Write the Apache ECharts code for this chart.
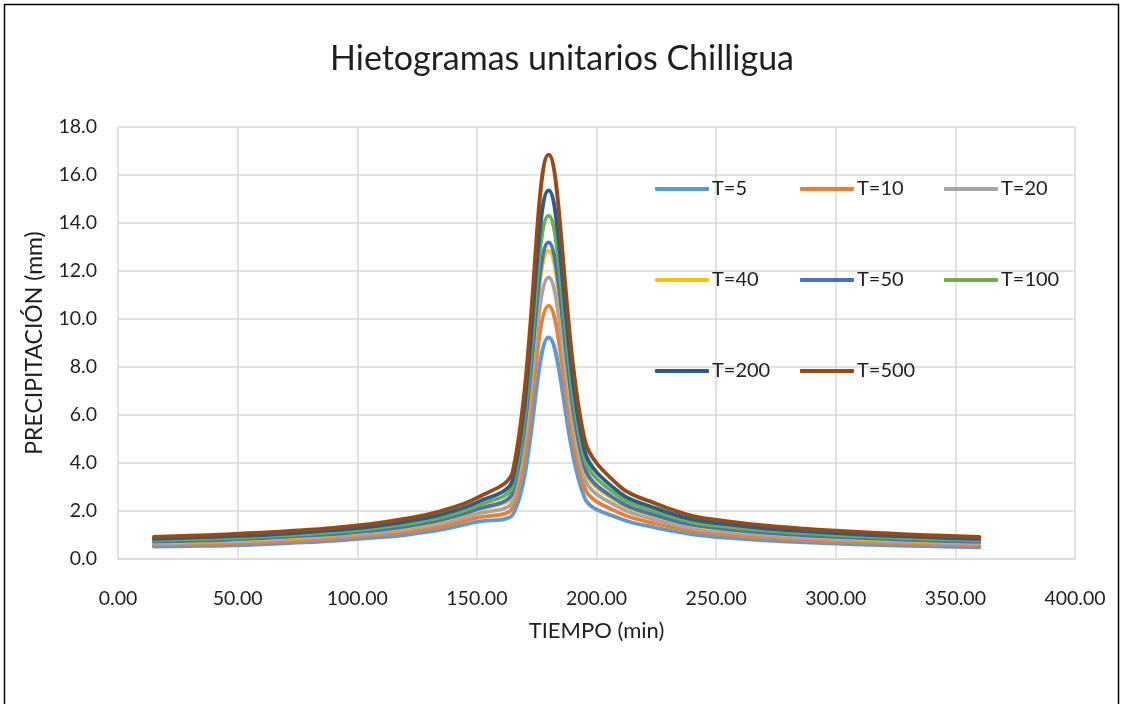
<!DOCTYPE html>
<html>
<head>
<meta charset="utf-8">
<script src="https://cdn.jsdelivr.net/npm/echarts@6/dist/echarts.min.js"></script>
<style>
  html, body { margin: 0; padding: 0; background: #ffffff; }
  #chart { width: 1124px; height: 704px; }
</style>
</head>
<body>
<div id="chart"></div>
<script>
// Tiempo (min) de cada bloque de 15 minutos
const tiempo = [15, 30, 45, 60, 75, 90, 105, 120, 135, 150, 165, 180,
                195, 210, 225, 240, 255, 270, 285, 300, 315, 330, 345, 360];

// Precipitación (mm) por periodo de retorno
const t5   = [0.52, 0.54, 0.56, 0.61, 0.68, 0.76, 0.87, 1.00, 1.22, 1.55, 1.85, 9.23,
              2.55, 1.68, 1.30, 1.03, 0.88, 0.78, 0.70, 0.64, 0.59, 0.55, 0.52, 0.49];
const t10  = [0.59, 0.61, 0.64, 0.69, 0.77, 0.85, 0.97, 1.12, 1.35, 1.72, 2.16, 10.55,
              2.97, 1.90, 1.47, 1.16, 1.00, 0.89, 0.80, 0.73, 0.68, 0.63, 0.60, 0.56];
const t20  = [0.65, 0.68, 0.72, 0.77, 0.85, 0.94, 1.06, 1.22, 1.48, 1.88, 2.44, 11.73,
              3.36, 2.12, 1.63, 1.28, 1.11, 0.99, 0.89, 0.82, 0.76, 0.71, 0.67, 0.63];
const t40  = [0.71, 0.74, 0.78, 0.84, 0.92, 1.02, 1.15, 1.32, 1.59, 2.03, 2.71, 12.85,
              3.71, 2.31, 1.78, 1.40, 1.21, 1.08, 0.98, 0.90, 0.83, 0.78, 0.73, 0.69];
const t50  = [0.73, 0.76, 0.80, 0.87, 0.95, 1.04, 1.17, 1.35, 1.63, 2.07, 2.79, 13.19,
              3.82, 2.37, 1.82, 1.43, 1.24, 1.10, 1.00, 0.92, 0.86, 0.80, 0.75, 0.71];
const t100 = [0.79, 0.83, 0.87, 0.94, 1.02, 1.12, 1.26, 1.45, 1.74, 2.22, 3.05, 14.30,
              4.18, 2.56, 1.97, 1.54, 1.34, 1.19, 1.09, 1.00, 0.93, 0.87, 0.82, 0.78];
const t200 = [0.84, 0.89, 0.94, 1.00, 1.09, 1.20, 1.34, 1.55, 1.85, 2.36, 3.30, 15.36,
              4.52, 2.74, 2.11, 1.65, 1.44, 1.28, 1.17, 1.08, 1.00, 0.94, 0.88, 0.84];
const t500 = [0.92, 0.97, 1.03, 1.10, 1.19, 1.30, 1.45, 1.68, 2.00, 2.55, 3.65, 16.85,
              5.00, 3.00, 2.30, 1.80, 1.57, 1.40, 1.28, 1.18, 1.10, 1.03, 0.97, 0.92];

const nombres = ['T=5', 'T=10', 'T=20', 'T=40', 'T=50', 'T=100', 'T=200', 'T=500'];
const valores = [t5, t10, t20, t40, t50, t100, t200, t500];
const colores = ['#5B9BD5', '#ED7D31', '#A5A5A5', '#FFC000', '#4472C4', '#70AD47', '#255E91', '#9E480E'];

// Columnas de la leyenda (3 x 3)
const columnasLeyenda = [
  ['T=5', 'T=40', 'T=200'],
  ['T=10', 'T=50', 'T=500'],
  ['T=20', 'T=100']
];

const fuente = 'Lato, "Open Sans", sans-serif';
const colorTexto = '#1f1f1f';

const chart = echarts.init(document.getElementById('chart'), null, { renderer: 'canvas' });

const series = nombres.map((n, k) => ({
  name: n,
  type: 'line',
  data: tiempo.map((t, i) => [t, valores[k][i]]),
  smooth: 0.35,
  symbol: 'none',
  showSymbol: false,
  lineStyle: { width: 3.8, color: colores[k], cap: 'round', join: 'round' },
  itemStyle: { color: colores[k] },
  emphasis: { disabled: true },
  animation: false
}));

const legendLeft = [655, 800, 944];
const legends = columnasLeyenda.map((col, c) => ({
  orient: 'vertical',
  left: legendLeft[c],
  top: 179,
  itemGap: 71,
  itemWidth: 54,
  itemHeight: 4,
  icon: 'roundRect',
  selectedMode: false,
  data: col,
  padding: 0,
  textStyle: { fontFamily: fuente, fontSize: 20, color: colorTexto, lineHeight: 20, padding: [0, 0, 0, -2] }
}));

chart.setOption({
  animation: false,
  backgroundColor: '#ffffff',
  color: colores,
  title: {
    text: 'Hietogramas unitarios Chilligua',
    left: 'center',
    top: 37,
    textStyle: { fontFamily: fuente, fontSize: 34, fontWeight: 'normal', color: colorTexto }
  },
  legend: legends,
  grid: { left: 118, right: 49, top: 127, bottom: 145, containLabel: false },
  xAxis: {
    type: 'value',
    min: 0, max: 400, interval: 50,
    name: 'TIEMPO (min)',
    nameLocation: 'middle',
    nameGap: 61,
    nameTextStyle: { fontFamily: fuente, fontSize: 22, color: colorTexto },
    axisLine: { show: true, lineStyle: { color: '#D9D9D9', width: 1.5 } },
    axisTick: { show: false },
    axisLabel: {
      margin: 30,
      fontFamily: fuente, fontSize: 19.5, color: colorTexto,
      formatter: v => v.toFixed(2)
    },
    splitLine: { show: true, lineStyle: { color: '#D9D9D9', width: 1.5 } }
  },
  yAxis: {
    type: 'value',
    min: 0, max: 18, interval: 2,
    name: 'PRECIPITACIÓN (mm)',
    nameLocation: 'middle',
    nameGap: 72,
    nameTextStyle: { fontFamily: fuente, fontSize: 23, color: colorTexto },
    axisLine: { show: false },
    axisTick: { show: false },
    axisLabel: {
      margin: 21,
      fontFamily: fuente, fontSize: 19.5, color: colorTexto,
      formatter: v => v.toFixed(1)
    },
    splitLine: { show: true, lineStyle: { color: '#D9D9D9', width: 1.5 } }
  },
  graphic: [{
    type: 'rect',
    silent: true,
    z: 100,
    shape: { x: 4.5, y: 4.5, width: 1114, height: 760 },
    style: { fill: 'none', stroke: '#000000', lineWidth: 1.5 }
  }],
  series: series
});
</script>
</body>
</html>
